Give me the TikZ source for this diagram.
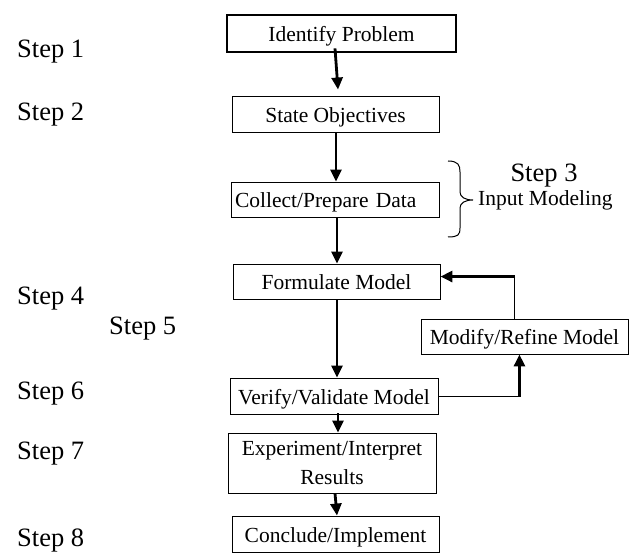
\documentclass[tikz,border=0pt]{standalone}
\usepackage{fontspec}
\setmainfont{Liberation Serif}
\usetikzlibrary{arrows.meta,calc}
\newcommand\bxfont{\fontsize{21.5}{29}\selectfont}
\newcommand\stfont{\fontsize{26.5}{30}\selectfont}
\begin{document}
\begin{tikzpicture}[x=1pt,y=-1pt,
  box/.style={draw,line width=0.9pt,inner sep=0pt,font=\bxfont,text height=19pt,text depth=2pt,align=center},
  box2/.style={draw,line width=0.9pt,inner sep=0pt,font=\bxfont,align=center},
  steplbl/.style={inner sep=0pt,font=\stfont,anchor=base west},
  arr/.style={line width=2.8pt,-{Triangle[length=12pt,width=11pt]}},
  thin/.style={line width=1pt}]
\useasboundingbox (0,0) rectangle (635,553);
% boxes
\node[box,minimum width=229pt,minimum height=37pt,line width=2.8pt] (id) at (341.5,33.5) {Identify Problem};
\node[box,minimum width=207pt,minimum height=36pt] (so) at (335.5,114) {State Objectives};
\node[box,minimum width=208pt,minimum height=35pt,text width=200pt,align=left] (cd) at (335,199.5) {Collect/Prepare Data};
\node[box,minimum width=207pt,minimum height=35pt] (fm) at (336.5,281.5) {Formulate Model};
\node[box,minimum width=207pt,minimum height=35pt] (mr) at (524.5,336.5) {Modify/Refine Model};
\node[box,minimum width=208pt,minimum height=36pt] (vv) at (334,396) {Verify/Validate Model};
\node[box2,minimum width=208pt,minimum height=60pt] (ex) at (332,463) {Experiment/Interpret\\Results};
\node[box,minimum width=207pt,minimum height=36pt] (ci) at (335.5,534) {Conclude/Implement};
% arrows
\draw[arr] ($(id.south)+(-6.5,-5)$) -- ($(so.north)+(2.5,-6)$);
\draw[arr] ($(so.south)+(0.5,0)$) -- ($(cd.north)+(1,0)$);
\draw[arr] ($(cd.south)+(2,0)$) -- ($(fm.north)+(0.5,0)$);
\draw[arr] ($(fm.south)+(0.5,0)$) -- ($(vv.north)+(3,0)$);
\draw[arr] ($(vv.south)+(4,-1)$) -- ($(ex.north)+(6,0)$);
\draw[arr] ($(ex.south)+(3,0)$) -- ($(ci.north)+(1.5,0)$);
% feedback loop
\draw[thin] ($(vv.east)+(0,1)$) -- ($(vv.east)+(81,1)$) coordinate (c1);
\draw[arr] (c1) -- (c1 |- mr.south);
\draw[thin] ($(mr.north)+(-10.5,0)$) -- ++(0,-42) coordinate (c2);
\draw[arr] ($(c2)+(1,0)$) -- (c2 -| fm.east);
% brace
\draw[thin] (448,161) .. controls (458,161) and (460,165) .. (460,172) -- (460,192)
  .. controls (460,197) and (465,200) .. (473,200)
  .. controls (465,200) and (460,203) .. (460,208) -- (460,228)
  .. controls (460,235) and (458,237) .. (448,237);
\node[inner sep=0pt,font=\stfont,anchor=base] (s3) at (544,182) {Step 3};
\node[inner sep=0pt,font=\bxfont,anchor=base west] (im) at (478,206) {Input Modeling};
% step labels
\node[steplbl] (s1) at (17,58) {Step 1};
\node[steplbl] (s2) at (17,121) {Step 2};
\node[steplbl] (s4) at (17,305) {Step 4};
\node[steplbl] (s5) at (109,335) {Step 5};
\node[steplbl] (s6) at (17,400) {Step 6};
\node[steplbl] (s7) at (17,460) {Step 7};
\node[steplbl] (s8) at (17,546) {Step 8};
\end{tikzpicture}
\end{document}
